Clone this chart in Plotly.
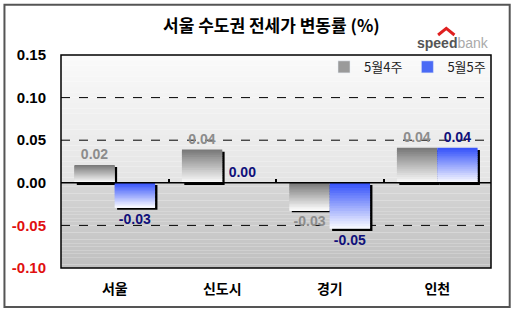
import plotly.graph_objects as go

categories = ["서울", "신도시", "경기", "인천"]
series_names = ["5월4주", "5월5주"]
week4 = [0.021, 0.039, -0.032, 0.041]
week5 = [-0.029, 0.0, -0.054, 0.041]
y_tickvals = [0.15, 0.10, 0.05, 0.00, -0.05, -0.10]
y_ticktext = ["0.15", "0.10", "0.05", "0.00", "-0.05", "-0.10"]

FONT = "Liberation Sans, Arial, Noto Sans CJK KR"
KFONT = "Noto Sans CJK KR, Liberation Sans"

def lerp(c1, c2, t):
    return "rgb(%d,%d,%d)" % tuple(int(round(a + (b - a) * t)) for a, b in zip(c1, c2))

fig = go.Figure()
W = 0.375
offsets = [-0.375, 0.0]
tops = [(118, 118, 118), (50, 80, 250)]
bottoms = [(252, 252, 252), (252, 252, 255)]
label_colors = ["#8c8c8c", "#10107a"]
N = 18
dx = 0.022
dy = 0.0026

for s, vals in enumerate([week4, week5]):
    fig.add_trace(go.Bar(
        x=categories, y=[abs(v) for v in vals],
        base=[min(v, 0) - dy for v in vals],
        width=W, offset=offsets[s] + dx,
        marker=dict(color="black", line=dict(width=0)),
        showlegend=False, hoverinfo="skip"))

for s, vals in enumerate([week4, week5]):
    for k in range(N):
        t = (k + 0.5) / N
        extra = [0.0 if k == N - 1 else abs(v) / N * 0.8 for v in vals]
        fig.add_trace(go.Bar(
            x=categories, y=[abs(v) / N + e for v, e in zip(vals, extra)],
            base=[max(v, 0) - (k + 1) * abs(v) / N - e for v, e in zip(vals, extra)],
            width=W, offset=offsets[s],
            marker=dict(color=lerp(tops[s], bottoms[s], t), line=dict(width=0)),
            showlegend=False, hoverinfo="skip"))

for s, vals in enumerate([week4, week5]):
    fig.add_trace(go.Bar(
        x=categories, y=vals, width=W, offset=offsets[s],
        marker=dict(color="rgba(0,0,0,0)", line=dict(width=0)),
        text=["%.2f" % v for v in vals], textposition="outside",
        textfont=dict(family=FONT, size=14, color=label_colors[s]),
        texttemplate="<b>%{text}</b>", cliponaxis=False,
        showlegend=False, hoverinfo="skip"))

legend_colors = ["#9a9a9a", "#4a6af5"]
for s in range(2):
    fig.add_trace(go.Bar(x=[None], y=[None], name=series_names[s],
                         marker=dict(color=legend_colors[s])))

# zero-height trace on the zero-line axis so that boundary ticks are drawn
fig.add_trace(go.Bar(x=categories, y=[0] * len(categories), xaxis="x2",
                     marker=dict(color="rgba(0,0,0,0)", line=dict(width=0)),
                     showlegend=False, hoverinfo="skip"))

shapes = []
NB = 24
for k in range(NB):
    y0 = 0.15 * k / NB
    y1 = 0.15 * (k + 1) / NB
    t = (k + 0.5) / NB
    shapes.append(dict(type="rect", xref="paper", yref="y", x0=0, x1=1, y0=y0, y1=y1,
                       fillcolor=lerp((228, 228, 228), (250, 250, 250), t),
                       line=dict(width=0), layer="below"))
for k in range(NB):
    y0 = -0.10 * k / NB
    y1 = -0.10 * (k + 1) / NB
    t = (k + 0.5) / NB
    shapes.append(dict(type="rect", xref="paper", yref="y", x0=0, x1=1, y0=y0, y1=y1,
                       fillcolor=lerp((214, 214, 214), (192, 192, 192), t),
                       line=dict(width=0), layer="below"))
for v in [0.10, 0.05, -0.05]:
    shapes.append(dict(type="line", xref="paper", yref="y", x0=0, x1=1, y0=v, y1=v,
                       line=dict(color="black", width=1, dash="dash"), layer="below"))
shapes.append(dict(type="line", xref="paper", yref="y", x0=0, x1=1, y0=0, y1=0,
                   line=dict(color="black", width=1.5), layer="above"))
shapes.append(dict(type="rect", xref="paper", yref="paper", x0=0, x1=1, y0=0, y1=1,
                   line=dict(color="black", width=1.5), layer="above"))
shapes.append(dict(type="rect", xref="paper", yref="paper", x0=-0.1315, x1=1.0435,
                   y0=-0.183, y1=1.236, line=dict(color="#555555", width=2)))
shapes.append(dict(type="path", xref="paper", yref="paper",
                   path="M 0.877 1.094 L 0.896 1.125 L 0.915 1.094",
                   line=dict(color="#e02020", width=3)))

fig.update_layout(
    width=515, height=312,
    margin=dict(l=61, r=24, t=55, b=44),
    paper_bgcolor="white", plot_bgcolor="rgba(0,0,0,0)",
    barmode="overlay",
    shapes=shapes,
    showlegend=True,
    legend=dict(orientation="h", x=1.0, xanchor="right", y=0.944, yanchor="middle",
                bgcolor="rgba(0,0,0,0)", font=dict(family=KFONT, size=13, color="#222"),
                itemwidth=30, tracegroupgap=0),
    xaxis=dict(showgrid=False, zeroline=False, showline=False, ticks="",
               tickfont=dict(family=KFONT, size=14, color="black", weight="bold"),
               ticklabelstandoff=11),
    xaxis2=dict(matches="x", overlaying="x", anchor="free", position=0.4, side="bottom",
                showgrid=False, zeroline=False, showline=False, showticklabels=False,
                ticks="inside", tickson="boundaries", ticklen=4, tickcolor="black", tickwidth=1.5),
    yaxis=dict(range=[-0.10, 0.15], showgrid=False, zeroline=False, showline=False,
               tickvals=y_tickvals,
               ticktext=["<b>%s</b>" % t if not t.startswith("-") else
                         "<b><span style='color:#e01010'>%s</span></b>" % t for t in y_ticktext],
               tickfont=dict(family=FONT, size=15, color="black"),
               ticklabelstandoff=14),
    annotations=[
        dict(text="<b>서울 수도권 전세가 변동률 (%)</b>", xref="paper", yref="paper",
             x=0.49, y=1.141, xanchor="center", yanchor="middle", showarrow=False,
             font=dict(family=KFONT, size=17, color="black")),
        dict(text="<b>speed</b><span style='color:#aaaaaa'>bank</span>", xref="paper", yref="paper",
             x=1.0, y=1.056, xanchor="right", yanchor="middle", showarrow=False,
             font=dict(family=FONT, size=14, color="#555555")),
    ],
)
fig.write_html("out.html")
